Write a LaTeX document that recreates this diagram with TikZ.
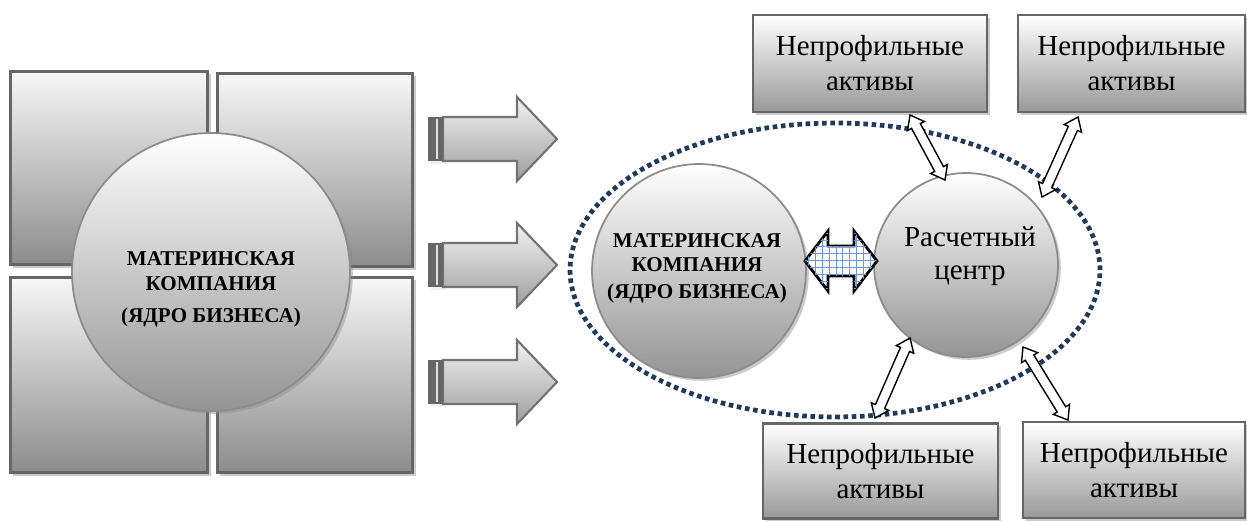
\documentclass[tikz,border=0pt]{standalone}
\usepackage{fontspec}
\setmainfont{Liberation Serif}
\usetikzlibrary{calc,shadows,patterns.meta,shapes.geometric}

\definecolor{bord}{HTML}{666666}
\definecolor{navy}{HTML}{213A5C}
\definecolor{gridblue}{HTML}{6F96CF}

\newcommand\dblarr[6]{%
  \draw[#1] (#2) -- ($(#2)!#6!(#3)!#5!90:(#3)$) -- ($(#2)!#6!(#3)!#4!90:(#3)$)
   -- ($(#3)!#6!(#2)!#4!-90:(#2)$) -- ($(#3)!#6!(#2)!#5!-90:(#2)$) -- (#3)
   -- ($(#3)!#6!(#2)!#5!90:(#2)$) -- ($(#3)!#6!(#2)!#4!90:(#2)$)
   -- ($(#2)!#6!(#3)!#4!-90:(#3)$) -- ($(#2)!#6!(#3)!#5!-90:(#3)$) -- cycle;}

\tikzset{
  shad/.style={drop shadow={shadow xshift=1.6pt, shadow yshift=-1.6pt, fill=black!45, opacity=0.45}},
  quad/.style={rectangle, draw=bord, line width=1.7pt, top color=black!3, bottom color=black!45, inner sep=0pt, shad},
  bigcirc/.style={circle, draw=black!45, line width=1pt, top color=white, bottom color=black!42, inner sep=0pt, shad},
  nbox/.style={rectangle, draw=bord, line width=1.5pt, top color=white, bottom color=black!40, inner sep=0pt, align=center,
    font=\fontsize{16.5}{20}\selectfont, shad},
  captxt/.style={align=center, font=\fontsize{12}{14}\selectfont\bfseries},
  bigarrow/.style={draw=black!55, line width=1.2pt, top color=black!5, bottom color=black!38, line join=miter},
  smallarr/.style={draw=black, line width=0.8pt, fill=white, line join=miter},
  hatcharr/.style={draw=black, line width=1.6pt, fill=white, line join=miter,
    postaction={pattern={Hatch[angle=0,distance=3.9pt,line width=0.5pt]}, pattern color=gridblue}},
  zone/.style={ellipse, draw=navy, line width=2.7pt, dash pattern=on 2.6pt off 2.1pt, inner sep=0pt}
}

\begin{document}
\begin{tikzpicture}[x=0.02cm, y=-0.02cm]
\useasboundingbox (0,0) rectangle (1247,521);

% left quadrants
\node[quad, minimum width=3.96cm, minimum height=3.88cm] (q1) at (109,168) {};
\node[quad, minimum width=3.92cm, minimum height=3.88cm] (q2) at (315,170) {};
\node[quad, minimum width=3.96cm, minimum height=3.92cm] (q3) at (109,375) {};
\node[quad, minimum width=3.92cm, minimum height=3.92cm] (q4) at (315,375) {};
\node[bigcirc, minimum size=5.56cm] (core) at (211,272) {};
\node[captxt, font=\fontsize{12}{14.5}\selectfont\bfseries] (coretxt) at (211,289) {МАТЕРИНСКАЯ\\КОМПАНИЯ\\[3.5pt](ЯДРО БИЗНЕСА)};

% big arrows
\foreach \ty/\nm in {139/ar1, 265/ar2, 382/ar3}{
  \begin{scope}[shift={(0,\ty)}]
    \coordinate (\nm) at (557,0);
    \fill[black!10, opacity=0.6] (431,-19) rectangle (446,25);
    \path[bigarrow] (443,-22) -- (517,-22) -- (517,-42) -- (557,0) -- (517,42) -- (517,22) -- (443,22) -- cycle;
    \fill[bord] (428,-22) rectangle (443,22);
    \draw[black!12, line width=0.9pt] (437,-20) -- (437,20);
  \end{scope}
}

% dotted zone
\node[zone, minimum width=10.6cm, minimum height=5.88cm] (zone) at (835,270) {};

% circles on the right
\node[bigcirc, minimum size=4.28cm] (parent) at (699,271) {};
\node[captxt] (parenttxt) at (697,268) {МАТЕРИНСКАЯ\\КОМПАНИЯ\\[1pt](ЯДРО БИЗНЕСА)};
\node[bigcirc, minimum size=3.68cm] (calc) at (966,265) {};
\node[align=center, font=\fontsize{16.5}{18.5}\selectfont] (calctxt) at (970,256) {Расчетный\\центр};

% boxes
\node[nbox, minimum width=4.68cm, minimum height=1.94cm] (b1) at (870,63.5) {Непрофильные\\активы};
\node[nbox, minimum width=4.54cm, minimum height=1.94cm] (b2) at (1131.5,63.5) {Непрофильные\\активы};
\node[nbox, minimum width=4.70cm, minimum height=1.90cm] (b3) at (880.5,471) {Непрофильные\\активы};
\node[nbox, minimum width=4.44cm, minimum height=1.92cm] (b4) at (1134,470) {Непрофильные\\активы};

% hatched double arrow
\coordinate (h1) at (805,261);
\coordinate (h2) at (877,261);
\dblarr{hatcharr}{h1}{h2}{0.3cm}{0.6cm}{0.46cm}

% small double arrows
\coordinate (s1a) at (910,115); \coordinate (s1b) at (945,180);
\coordinate (s2a) at (1078,117); \coordinate (s2b) at (1042,197);
\coordinate (s3a) at (875,418); \coordinate (s3b) at (910,338);
\coordinate (s4a) at (1068,420); \coordinate (s4b) at (1023,347);
\dblarr{smallarr}{s1a}{s1b}{0.1cm}{0.19cm}{0.25cm}
\dblarr{smallarr}{s2a}{s2b}{0.1cm}{0.19cm}{0.25cm}
\dblarr{smallarr}{s3a}{s3b}{0.1cm}{0.19cm}{0.25cm}
\dblarr{smallarr}{s4a}{s4b}{0.1cm}{0.19cm}{0.25cm}
\end{tikzpicture}
\end{document}
